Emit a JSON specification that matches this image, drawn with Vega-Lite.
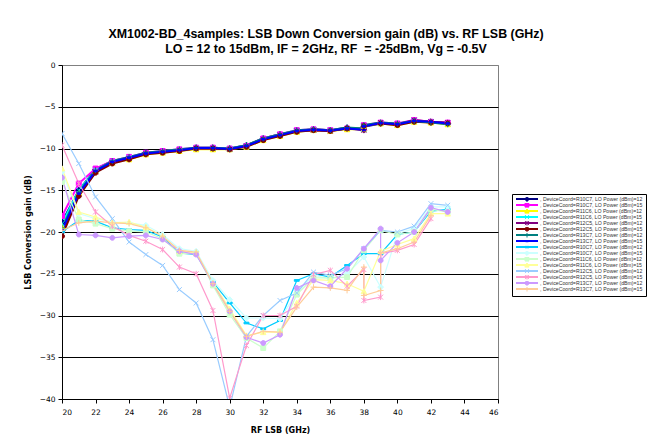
{
"$schema": "https://vega.github.io/schema/vega-lite/v6.json",
"width": 436, "height": 334,
"autosize": {"type": "none"},
"padding": {"left": 62, "top": 65, "right": 158, "bottom": 45},
"background": "white",
"title": {"text": ["XM1002-BD_4samples: LSB Down Conversion gain (dB) vs. RF LSB (GHz)", "LO = 12 to 15dBm, IF = 2GHz, RF \u00a0= -25dBm, Vg = -0.5V"], "font": "Liberation Sans", "fontSize": 12.4, "fontWeight": "bold", "anchor": "middle", "dx": 46, "offset": 6, "lineHeight": 14.5, "color": "black"},
"config": {"view": {"stroke": "#808080", "strokeWidth": 1}},
"data": {"values": [
{"s":1,"k":0,"x":20,"y":-18.8},{"s":1,"k":1,"x":21,"y":-15},{"s":1,"k":2,"x":22,"y":-12.5},{"s":1,"k":3,"x":23,"y":-11.5},{"s":1,"k":4,"x":24,"y":-11.1},{"s":1,"k":5,"x":25,"y":-10.5},{"s":1,"k":6,"x":26,"y":-10.4},{"s":1,"k":7,"x":27,"y":-10.2},{"s":1,"k":8,"x":28,"y":-9.9},{"s":1,"k":9,"x":29,"y":-9.9},{"s":1,"k":10,"x":30,"y":-10},{"s":1,"k":11,"x":31,"y":-9.6},{"s":1,"k":12,"x":32,"y":-8.8},{"s":1,"k":13,"x":33,"y":-8.3},{"s":1,"k":14,"x":34,"y":-7.9},{"s":1,"k":15,"x":35,"y":-7.7},{"s":1,"k":16,"x":36,"y":-7.8},{"s":1,"k":17,"x":37,"y":-7.5},{"s":1,"k":18,"x":38,"y":-7.8},{"s":1,"k":19,"x":38,"y":-7.4},{"s":1,"k":20,"x":39,"y":-7},{"s":1,"k":21,"x":40,"y":-7.1},{"s":1,"k":22,"x":41,"y":-6.7},{"s":1,"k":23,"x":42,"y":-6.8},{"s":1,"k":24,"x":43,"y":-7},
{"s":2,"k":0,"x":20,"y":-18.1},{"s":2,"k":1,"x":21,"y":-14.2},{"s":2,"k":2,"x":22,"y":-12.4},{"s":2,"k":3,"x":23,"y":-11.5},{"s":2,"k":4,"x":24,"y":-11},{"s":2,"k":5,"x":25,"y":-10.5},{"s":2,"k":6,"x":26,"y":-10.3},{"s":2,"k":7,"x":27,"y":-10.1},{"s":2,"k":8,"x":28,"y":-9.9},{"s":2,"k":9,"x":29,"y":-9.9},{"s":2,"k":10,"x":30,"y":-10},{"s":2,"k":11,"x":31,"y":-9.7},{"s":2,"k":12,"x":32,"y":-8.8},{"s":2,"k":13,"x":33,"y":-8.3},{"s":2,"k":14,"x":34,"y":-7.8},{"s":2,"k":15,"x":35,"y":-7.7},{"s":2,"k":16,"x":36,"y":-7.8},{"s":2,"k":17,"x":37,"y":-7.6},{"s":2,"k":18,"x":38,"y":-7.7},{"s":2,"k":19,"x":38,"y":-7.2},{"s":2,"k":20,"x":39,"y":-6.9},{"s":2,"k":21,"x":40,"y":-7},{"s":2,"k":22,"x":41,"y":-6.6},{"s":2,"k":23,"x":42,"y":-6.8},{"s":2,"k":24,"x":43,"y":-6.9},
{"s":3,"k":0,"x":20,"y":-19.3},{"s":3,"k":1,"x":21,"y":-15.3},{"s":3,"k":2,"x":22,"y":-12.7},{"s":3,"k":3,"x":23,"y":-11.7},{"s":3,"k":4,"x":24,"y":-11.3},{"s":3,"k":5,"x":25,"y":-10.7},{"s":3,"k":6,"x":26,"y":-10.5},{"s":3,"k":7,"x":27,"y":-10.3},{"s":3,"k":8,"x":28,"y":-10.1},{"s":3,"k":9,"x":29,"y":-10.1},{"s":3,"k":10,"x":30,"y":-10.1},{"s":3,"k":11,"x":31,"y":-9.8},{"s":3,"k":12,"x":32,"y":-9},{"s":3,"k":13,"x":33,"y":-8.5},{"s":3,"k":14,"x":34,"y":-8},{"s":3,"k":15,"x":35,"y":-7.8},{"s":3,"k":16,"x":36,"y":-7.9},{"s":3,"k":17,"x":37,"y":-7.7},{"s":3,"k":18,"x":38,"y":-7.7},{"s":3,"k":19,"x":38,"y":-7.3},{"s":3,"k":20,"x":39,"y":-7},{"s":3,"k":21,"x":40,"y":-7.2},{"s":3,"k":22,"x":41,"y":-6.8},{"s":3,"k":23,"x":42,"y":-6.9},{"s":3,"k":24,"x":43,"y":-7.1},
{"s":4,"k":0,"x":20,"y":-19},{"s":4,"k":1,"x":21,"y":-15},{"s":4,"k":2,"x":22,"y":-12.6},{"s":4,"k":3,"x":23,"y":-11.6},{"s":4,"k":4,"x":24,"y":-11.1},{"s":4,"k":5,"x":25,"y":-10.6},{"s":4,"k":6,"x":26,"y":-10.4},{"s":4,"k":7,"x":27,"y":-10.2},{"s":4,"k":8,"x":28,"y":-9.95},{"s":4,"k":9,"x":29,"y":-9.95},{"s":4,"k":10,"x":30,"y":-10.05},{"s":4,"k":11,"x":31,"y":-9.7},{"s":4,"k":12,"x":32,"y":-8.9},{"s":4,"k":13,"x":33,"y":-8.4},{"s":4,"k":14,"x":34,"y":-7.9},{"s":4,"k":15,"x":35,"y":-7.75},{"s":4,"k":16,"x":36,"y":-7.85},{"s":4,"k":17,"x":37,"y":-7.6},{"s":4,"k":18,"x":38,"y":-7.7},{"s":4,"k":19,"x":38,"y":-7.3},{"s":4,"k":20,"x":39,"y":-6.95},{"s":4,"k":21,"x":40,"y":-7.1},{"s":4,"k":22,"x":41,"y":-6.7},{"s":4,"k":23,"x":42,"y":-6.8},{"s":4,"k":24,"x":43,"y":-7},
{"s":5,"k":0,"x":20,"y":-20.2},{"s":5,"k":1,"x":21,"y":-15.5},{"s":5,"k":2,"x":22,"y":-12.8},{"s":5,"k":3,"x":23,"y":-11.7},{"s":5,"k":4,"x":24,"y":-11.2},{"s":5,"k":5,"x":25,"y":-10.6},{"s":5,"k":6,"x":26,"y":-10.4},{"s":5,"k":7,"x":27,"y":-10.2},{"s":5,"k":8,"x":28,"y":-10},{"s":5,"k":9,"x":29,"y":-10},{"s":5,"k":10,"x":30,"y":-10.1},{"s":5,"k":11,"x":31,"y":-9.7},{"s":5,"k":12,"x":32,"y":-8.9},{"s":5,"k":13,"x":33,"y":-8.4},{"s":5,"k":14,"x":34,"y":-7.9},{"s":5,"k":15,"x":35,"y":-7.8},{"s":5,"k":16,"x":36,"y":-7.9},{"s":5,"k":17,"x":37,"y":-7.6},{"s":5,"k":18,"x":38,"y":-7.8},{"s":5,"k":19,"x":38,"y":-7.3},{"s":5,"k":20,"x":39,"y":-6.9},{"s":5,"k":21,"x":40,"y":-7.1},{"s":5,"k":22,"x":41,"y":-6.6},{"s":5,"k":23,"x":42,"y":-6.8},{"s":5,"k":24,"x":43,"y":-6.9},
{"s":6,"k":0,"x":20,"y":-20.5},{"s":6,"k":1,"x":21,"y":-15.7},{"s":6,"k":2,"x":22,"y":-12.9},{"s":6,"k":3,"x":23,"y":-11.8},{"s":6,"k":4,"x":24,"y":-11.3},{"s":6,"k":5,"x":25,"y":-10.7},{"s":6,"k":6,"x":26,"y":-10.5},{"s":6,"k":7,"x":27,"y":-10.3},{"s":6,"k":8,"x":28,"y":-10},{"s":6,"k":9,"x":29,"y":-10},{"s":6,"k":10,"x":30,"y":-10.1},{"s":6,"k":11,"x":31,"y":-9.8},{"s":6,"k":12,"x":32,"y":-9},{"s":6,"k":13,"x":33,"y":-8.5},{"s":6,"k":14,"x":34,"y":-8},{"s":6,"k":15,"x":35,"y":-7.8},{"s":6,"k":16,"x":36,"y":-7.9},{"s":6,"k":17,"x":37,"y":-7.6},{"s":6,"k":18,"x":38,"y":-7.6},{"s":6,"k":19,"x":38,"y":-7.3},{"s":6,"k":20,"x":39,"y":-7},{"s":6,"k":21,"x":40,"y":-7.2},{"s":6,"k":22,"x":41,"y":-6.8},{"s":6,"k":23,"x":42,"y":-6.9},{"s":6,"k":24,"x":43,"y":-7},
{"s":7,"k":0,"x":20,"y":-19.5},{"s":7,"k":1,"x":21,"y":-15.2},{"s":7,"k":2,"x":22,"y":-12.6},{"s":7,"k":3,"x":23,"y":-11.5},{"s":7,"k":4,"x":24,"y":-11},{"s":7,"k":5,"x":25,"y":-10.5},{"s":7,"k":6,"x":26,"y":-10.3},{"s":7,"k":7,"x":27,"y":-10.1},{"s":7,"k":8,"x":28,"y":-9.9},{"s":7,"k":9,"x":29,"y":-9.9},{"s":7,"k":10,"x":30,"y":-10},{"s":7,"k":11,"x":31,"y":-9.6},{"s":7,"k":12,"x":32,"y":-8.8},{"s":7,"k":13,"x":33,"y":-8.3},{"s":7,"k":14,"x":34,"y":-7.8},{"s":7,"k":15,"x":35,"y":-7.7},{"s":7,"k":16,"x":36,"y":-7.8},{"s":7,"k":17,"x":37,"y":-7.5},{"s":7,"k":18,"x":38,"y":-7.6},{"s":7,"k":19,"x":38,"y":-7.2},{"s":7,"k":20,"x":39,"y":-6.9},{"s":7,"k":21,"x":40,"y":-7},{"s":7,"k":22,"x":41,"y":-6.7},{"s":7,"k":23,"x":42,"y":-6.9},{"s":7,"k":24,"x":43,"y":-7.1},
{"s":8,"k":0,"x":20,"y":-19.8},{"s":8,"k":1,"x":21,"y":-15.4},{"s":8,"k":2,"x":22,"y":-12.7},{"s":8,"k":3,"x":23,"y":-11.6},{"s":8,"k":4,"x":24,"y":-11.1},{"s":8,"k":5,"x":25,"y":-10.6},{"s":8,"k":6,"x":26,"y":-10.4},{"s":8,"k":7,"x":27,"y":-10.2},{"s":8,"k":8,"x":28,"y":-9.95},{"s":8,"k":9,"x":29,"y":-9.95},{"s":8,"k":10,"x":30,"y":-10.05},{"s":8,"k":11,"x":31,"y":-9.7},{"s":8,"k":12,"x":32,"y":-8.9},{"s":8,"k":13,"x":33,"y":-8.4},{"s":8,"k":14,"x":34,"y":-7.9},{"s":8,"k":15,"x":35,"y":-7.75},{"s":8,"k":16,"x":36,"y":-7.85},{"s":8,"k":17,"x":37,"y":-7.6},{"s":8,"k":18,"x":38,"y":-7.75},{"s":8,"k":19,"x":38,"y":-7.35},{"s":8,"k":20,"x":39,"y":-6.95},{"s":8,"k":21,"x":40,"y":-7.1},{"s":8,"k":22,"x":41,"y":-6.7},{"s":8,"k":23,"x":42,"y":-6.8},{"s":8,"k":24,"x":43,"y":-7},
{"s":9,"k":0,"x":20,"y":-20},{"s":9,"k":1,"x":21,"y":-18.6},{"s":9,"k":2,"x":22,"y":-18.7},{"s":9,"k":3,"x":23,"y":-19.5},{"s":9,"k":4,"x":24,"y":-19.7},{"s":9,"k":5,"x":25,"y":-19.8},{"s":9,"k":6,"x":26,"y":-20.6},{"s":9,"k":7,"x":27,"y":-22.5},{"s":9,"k":8,"x":28,"y":-22.7},{"s":9,"k":9,"x":29,"y":-26},{"s":9,"k":10,"x":30,"y":-28.5},{"s":9,"k":11,"x":31,"y":-30.9},{"s":9,"k":12,"x":32,"y":-31.6},{"s":9,"k":13,"x":33,"y":-30.6},{"s":9,"k":14,"x":34,"y":-25.8},{"s":9,"k":15,"x":35,"y":-25},{"s":9,"k":16,"x":36,"y":-25.4},{"s":9,"k":17,"x":37,"y":-24},{"s":9,"k":18,"x":38,"y":-22.6},{"s":9,"k":19,"x":39,"y":-22.6},{"s":9,"k":20,"x":40,"y":-20.3},{"s":9,"k":21,"x":41,"y":-20},{"s":9,"k":22,"x":42,"y":-17.5},{"s":9,"k":23,"x":43,"y":-17.3},
{"s":10,"k":0,"x":20,"y":-12.8},{"s":10,"k":1,"x":21,"y":-17.8},{"s":10,"k":2,"x":22,"y":-18.4},{"s":10,"k":3,"x":23,"y":-18.8},{"s":10,"k":4,"x":24,"y":-18.9},{"s":10,"k":5,"x":25,"y":-19.2},{"s":10,"k":6,"x":26,"y":-20.3},{"s":10,"k":7,"x":27,"y":-22},{"s":10,"k":8,"x":28,"y":-22.3},{"s":10,"k":9,"x":29,"y":-25.8},{"s":10,"k":10,"x":30,"y":-28.1},{"s":10,"k":11,"x":31,"y":-30.3},{"s":10,"k":12,"x":32,"y":-30.3},{"s":10,"k":13,"x":33,"y":-30.4},{"s":10,"k":14,"x":34,"y":-27.3},{"s":10,"k":15,"x":35,"y":-25.2},{"s":10,"k":16,"x":36,"y":-25.6},{"s":10,"k":17,"x":37,"y":-25},{"s":10,"k":18,"x":38,"y":-23},{"s":10,"k":19,"x":39,"y":-26.6},{"s":10,"k":20,"x":40,"y":-20.2},{"s":10,"k":21,"x":41,"y":-19.6},{"s":10,"k":22,"x":42,"y":-17},{"s":10,"k":23,"x":43,"y":-17},
{"s":11,"k":0,"x":20,"y":-14},{"s":11,"k":1,"x":21,"y":-18.5},{"s":11,"k":2,"x":22,"y":-19},{"s":11,"k":3,"x":23,"y":-19.6},{"s":11,"k":4,"x":24,"y":-19.9},{"s":11,"k":5,"x":25,"y":-20},{"s":11,"k":6,"x":26,"y":-20.8},{"s":11,"k":7,"x":27,"y":-22.6},{"s":11,"k":8,"x":28,"y":-22.6},{"s":11,"k":9,"x":29,"y":-26.4},{"s":11,"k":10,"x":30,"y":-29.9},{"s":11,"k":11,"x":31,"y":-32.7},{"s":11,"k":12,"x":32,"y":-33.9},{"s":11,"k":13,"x":33,"y":-31.9},{"s":11,"k":14,"x":34,"y":-27.5},{"s":11,"k":15,"x":35,"y":-25.5},{"s":11,"k":16,"x":36,"y":-25.5},{"s":11,"k":17,"x":37,"y":-25.4},{"s":11,"k":18,"x":38,"y":-22.2},{"s":11,"k":19,"x":39,"y":-19.8},{"s":11,"k":20,"x":40,"y":-20.3},{"s":11,"k":21,"x":41,"y":-20},{"s":11,"k":22,"x":42,"y":-17.3},{"s":11,"k":23,"x":43,"y":-17.6},
{"s":12,"k":0,"x":20,"y":-12.4},{"s":12,"k":1,"x":21,"y":-17.6},{"s":12,"k":2,"x":22,"y":-18.2},{"s":12,"k":3,"x":23,"y":-18.9},{"s":12,"k":4,"x":24,"y":-18.8},{"s":12,"k":5,"x":25,"y":-19.4},{"s":12,"k":6,"x":26,"y":-20.5},{"s":12,"k":7,"x":27,"y":-22.3},{"s":12,"k":8,"x":28,"y":-22.5},{"s":12,"k":9,"x":29,"y":-26.1},{"s":12,"k":10,"x":30,"y":-29.2},{"s":12,"k":11,"x":31,"y":-32.4},{"s":12,"k":12,"x":32,"y":-32},{"s":12,"k":13,"x":33,"y":-32},{"s":12,"k":14,"x":34,"y":-28.5},{"s":12,"k":15,"x":35,"y":-25.7},{"s":12,"k":16,"x":36,"y":-25.8},{"s":12,"k":17,"x":37,"y":-26.2},{"s":12,"k":18,"x":38,"y":-27.1},{"s":12,"k":19,"x":39,"y":-22.3},{"s":12,"k":20,"x":40,"y":-21.5},{"s":12,"k":21,"x":41,"y":-20.8},{"s":12,"k":22,"x":42,"y":-17.8},{"s":12,"k":23,"x":43,"y":-17.8},
{"s":13,"k":0,"x":20,"y":-8.2},{"s":13,"k":1,"x":21,"y":-11.8},{"s":13,"k":2,"x":22,"y":-15.8},{"s":13,"k":3,"x":23,"y":-18.4},{"s":13,"k":4,"x":24,"y":-21.2},{"s":13,"k":5,"x":25,"y":-22.7},{"s":13,"k":6,"x":26,"y":-24},{"s":13,"k":7,"x":27,"y":-26.9},{"s":13,"k":8,"x":28,"y":-28.5},{"s":13,"k":9,"x":29,"y":-32.9},{"s":13,"k":10,"x":30,"y":-41},{"s":13,"k":11,"x":31,"y":-32.5},{"s":13,"k":12,"x":32,"y":-30},{"s":13,"k":13,"x":33,"y":-28.2},{"s":13,"k":14,"x":34,"y":-27.3},{"s":13,"k":15,"x":35,"y":-24.8},{"s":13,"k":16,"x":36,"y":-25.2},{"s":13,"k":17,"x":37,"y":-24.4},{"s":13,"k":18,"x":38,"y":-22},{"s":13,"k":19,"x":39,"y":-19.8},{"s":13,"k":20,"x":40,"y":-20},{"s":13,"k":21,"x":41,"y":-19.3},{"s":13,"k":22,"x":42,"y":-16.6},{"s":13,"k":23,"x":43,"y":-16.8},
{"s":14,"k":0,"x":20,"y":-9.6},{"s":14,"k":1,"x":21,"y":-14.2},{"s":14,"k":2,"x":22,"y":-17.6},{"s":14,"k":3,"x":23,"y":-19.3},{"s":14,"k":4,"x":24,"y":-20.4},{"s":14,"k":5,"x":25,"y":-21.1},{"s":14,"k":6,"x":26,"y":-22.1},{"s":14,"k":7,"x":27,"y":-24.2},{"s":14,"k":8,"x":28,"y":-25},{"s":14,"k":9,"x":29,"y":-29.4},{"s":14,"k":10,"x":30,"y":-39.9},{"s":14,"k":11,"x":31,"y":-33.6},{"s":14,"k":12,"x":32,"y":-30},{"s":14,"k":13,"x":33,"y":-30},{"s":14,"k":14,"x":34,"y":-28.9},{"s":14,"k":15,"x":35,"y":-25.1},{"s":14,"k":16,"x":36,"y":-24.6},{"s":14,"k":17,"x":37,"y":-26.5},{"s":14,"k":18,"x":38,"y":-24.5},{"s":14,"k":19,"x":38,"y":-28.2},{"s":14,"k":20,"x":39,"y":-27.8},{"s":14,"k":21,"x":39,"y":-22.6},{"s":14,"k":22,"x":40,"y":-22.2},{"s":14,"k":23,"x":41,"y":-21.5},{"s":14,"k":24,"x":42,"y":-18.4},
{"s":15,"k":0,"x":20,"y":-13.5},{"s":15,"k":1,"x":21,"y":-20.3},{"s":15,"k":2,"x":22,"y":-20.4},{"s":15,"k":3,"x":23,"y":-20.7},{"s":15,"k":4,"x":24,"y":-20.5},{"s":15,"k":5,"x":25,"y":-20.4},{"s":15,"k":6,"x":26,"y":-20.9},{"s":15,"k":7,"x":27,"y":-22.3},{"s":15,"k":8,"x":28,"y":-22.7},{"s":15,"k":9,"x":29,"y":-26.2},{"s":15,"k":10,"x":30,"y":-29.5},{"s":15,"k":11,"x":31,"y":-32.6},{"s":15,"k":12,"x":32,"y":-33.3},{"s":15,"k":13,"x":33,"y":-32.3},{"s":15,"k":14,"x":34,"y":-26.7},{"s":15,"k":15,"x":35,"y":-25.8},{"s":15,"k":16,"x":36,"y":-26.5},{"s":15,"k":17,"x":37,"y":-24.4},{"s":15,"k":18,"x":38,"y":-22},{"s":15,"k":19,"x":39,"y":-19.6},{"s":15,"k":20,"x":39,"y":-23.4},{"s":15,"k":21,"x":40,"y":-21.3},{"s":15,"k":22,"x":41,"y":-20},{"s":15,"k":23,"x":42,"y":-17.1},{"s":15,"k":24,"x":43,"y":-17.6},
{"s":16,"k":0,"x":20,"y":-19.8},{"s":16,"k":1,"x":21,"y":-18.9},{"s":16,"k":2,"x":22,"y":-18.7},{"s":16,"k":3,"x":23,"y":-18.9},{"s":16,"k":4,"x":24,"y":-19},{"s":16,"k":5,"x":25,"y":-19.5},{"s":16,"k":6,"x":26,"y":-20.5},{"s":16,"k":7,"x":27,"y":-22.2},{"s":16,"k":8,"x":28,"y":-22.4},{"s":16,"k":9,"x":29,"y":-26.2},{"s":16,"k":10,"x":30,"y":-29.5},{"s":16,"k":11,"x":31,"y":-32.5},{"s":16,"k":12,"x":32,"y":-31.9},{"s":16,"k":13,"x":33,"y":-32},{"s":16,"k":14,"x":34,"y":-29},{"s":16,"k":15,"x":35,"y":-26.6},{"s":16,"k":16,"x":36,"y":-26.7},{"s":16,"k":17,"x":37,"y":-27},{"s":16,"k":18,"x":38,"y":-24.2},{"s":16,"k":19,"x":38,"y":-27.6},{"s":16,"k":20,"x":39,"y":-27},{"s":16,"k":21,"x":39,"y":-22.5},{"s":16,"k":22,"x":40,"y":-22},{"s":16,"k":23,"x":41,"y":-21.2},{"s":16,"k":24,"x":42,"y":-18}
]},
"encoding": {
  "x": {"field": "x", "type": "quantitative", "scale": {"domain": [20, 46], "nice": false, "zero": false},
    "axis": {"values": [20,22,24,26,28,30,32,34,36,38,40,42,44,46], "grid": false, "domainColor": "black", "tickColor": "black", "tickSize": 4, "labelFont": "DejaVu Sans", "labelFontSize": 7.5, "labelColor": "black", "labelPadding": 5, "title": "RF LSB (GHz)", "titleFont": "DejaVu Sans", "titleFontSize": 8, "titleFontWeight": "bold", "titleColor": "black", "titlePadding": 11}},
  "y": {"field": "y", "type": "quantitative", "scale": {"domain": [-40, 0], "nice": false, "zero": false},
    "axis": {"values": [-40,-35,-30,-25,-20,-15,-10,-5,0], "grid": true, "gridColor": {"condition": {"test": "datum.value === 0", "value": "#808080"}, "value": "black"}, "gridOpacity": 1, "gridWidth": 1, "domainColor": "black", "tickColor": "black", "tickSize": 4, "labelFont": "DejaVu Sans", "labelFontSize": 7.5, "labelColor": "black", "labelPadding": 3, "title": "LSB Conversion gain (dB)", "titleFont": "DejaVu Sans", "titleFontSize": 8, "titleFontWeight": "bold", "titleColor": "black", "titlePadding": 7}},
  "order": {"field": "k", "type": "quantitative"}
},
"layer": [
  {"transform": [{"joinaggregate": [{"op": "min", "field": "s", "as": "series"}], "groupby": ["s"]}],
   "mark": {"type": "line", "clip": true},
   "encoding": {
     "color": {"field": "series", "type": "nominal", "sort": "ascending", "scale": {"range": ["#000080","#FF00FF","#FFFF00","#00FFFF","#800080","#800000","#008080","#0000FF","#00CCFF","#CCFFFF","#CCFFCC","#FFFF99","#99CCFF","#FF99CC","#CC99FF","#FFCC99"]},
       "legend": {"orient": "none", "legendX": 450, "legendY": 129, "title": null, "symbolType": "stroke", "symbolSize": 484, "symbolStrokeWidth": 2, "clipHeight": 4.2, "rowPadding": 0, "padding": 3, "strokeColor": "black", "labelFont": "Liberation Sans", "labelFontSize": 5.2, "labelColor": "#333333", "labelLimit": 0, "symbolOffset": 0, "labelOffset": 1,
         "labelExpr": "', DeviceCoord=' + ['R10C7','R11C6','R12C5','R13C7'][floor(((datum.value - 1) % 8) / 2)] + ', LO Power (dBm)=' + ((datum.value % 2) == 1 ? '12' : '15')"}},
     "strokeWidth": {"condition": {"test": "datum.s <= 8", "value": 2}, "value": 1.2}
   }},
  {"mark": {"type": "point", "filled": true, "clip": true, "size": 24, "strokeWidth": 1, "opacity": 1},
   "encoding": {
     "fill": {"field": "s", "type": "nominal", "scale": {"domain": [1,2,3,4,5,6,7,8,9,10,11,12,13,14,15,16], "range": ["#000080","#FF00FF","#FFFF00","#00FFFF","#800080","#800000","#008080","#0000FF","#00CCFF","#CCFFFF","#CCFFCC","#FFFF99","#99CCFF","#FF99CC","#CC99FF","#FFCC99"]}},
     "stroke": {"field": "s", "type": "nominal", "scale": {"domain": [1,2,3,4,5,6,7,8,9,10,11,12,13,14,15,16], "range": ["#000080","#FF00FF","#FFFF00","#00FFFF","#800080","#800000","#008080","#0000FF","#00CCFF","#CCFFFF","#CCFFCC","#FFFF99","#99CCFF","#FF99CC","#CC99FF","#FFCC99"]}},
     "shape": {"field": "s", "type": "nominal",
       "scale": {"domain": [1,2,3,4,5,6,7,8,9,10,11,12,13,14,15,16], "range": ["M0,-1.2L1.2,0L0,1.2L-1.2,0Z","M-1,-1H1V1H-1Z","M0,-1.1L1.1,1H-1.1Z","M-1,-1L1,1M-1,1L1,-1","M-1,-1L1,1M-1,1L1,-1M0,-1.2L0,1.2","M1,0A1,1,0,1,1,-1,0A1,1,0,1,1,1,0Z","M-1.2,0L1.2,0M0,-1.2L0,1.2","M-0.7,-0.3H0.7V0.3H-0.7Z","M-1,-0.35H1V0.35H-1Z","M0,-1.2L1.2,0L0,1.2L-1.2,0Z","M-1,-1H1V1H-1Z","M0,-1.1L1.1,1H-1.1Z","M-1,-1L1,1M-1,1L1,-1","M-1,-1L1,1M-1,1L1,-1M0,-1.2L0,1.2","M1,0A1,1,0,1,1,-1,0A1,1,0,1,1,1,0Z","M-1.2,0L1.2,0M0,-1.2L0,1.2"]},
       "legend": {"orient": "none", "legendX": 450, "legendY": 129, "title": null, "labelFont": "Liberation Sans", "labelFontSize": 5.2, "symbolSize": 16, "symbolStrokeWidth": 1, "rowPadding": 0, "clipHeight": 4.2, "padding": 3, "labelLimit": 0, "symbolOffset": 9.4, "labelOffset": 0, "labelExpr": "''"}}
   }}
]
}
